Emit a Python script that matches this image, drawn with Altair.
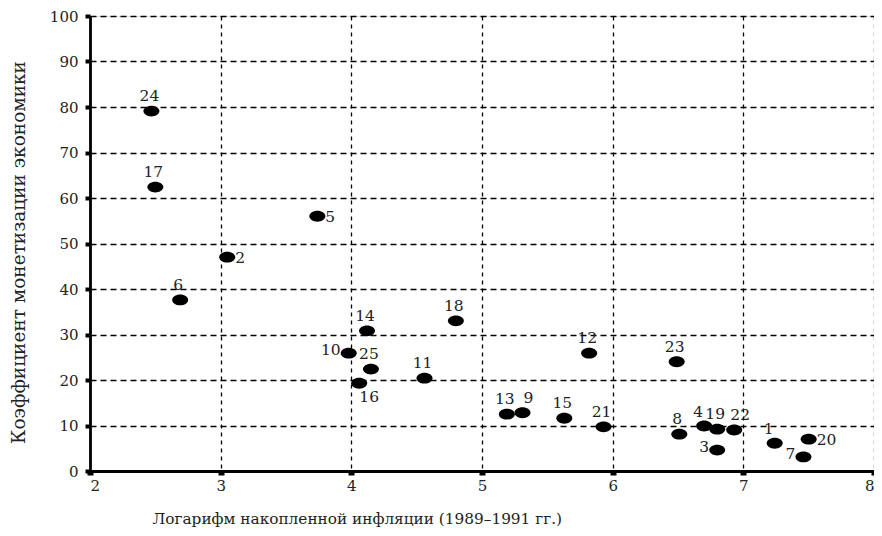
import altair as alt
import pandas as pd

ids = [str(i) for i in range(1, 26)]
x_vals = [7.24, 3.05, 6.80, 6.70, 3.74, 2.69, 7.46, 6.51, 5.31, 3.98,
          4.56, 5.82, 5.19, 4.12, 5.63, 4.06, 2.50, 4.80, 6.80, 7.50,
          5.93, 6.93, 6.49, 2.47, 4.15]
y_vals = [6.1, 47.0, 4.6, 9.9, 56.0, 37.6, 3.1, 8.1, 12.8, 25.9,
          20.4, 25.9, 12.5, 30.8, 11.6, 19.3, 62.4, 33.0, 9.2, 7.0,
          9.7, 9.0, 24.0, 79.1, 22.4]
label_side = ["above-left", "right", "left", "above-left", "right", "above", "left", "above", "above-right", "left",
              "above", "above", "above", "above", "above", "below-right", "above", "above", "above", "right",
              "above", "above-right", "above", "above", "above"]
x_ticks = [2, 3, 4, 5, 6, 7, 8]
y_ticks = [0, 10, 20, 30, 40, 50, 60, 70, 80, 90, 100]

x_title = "Логарифм накопленной инфляции (1989–1991 гг.)"
y_title = "Коэффициент монетизации экономики"

df = pd.DataFrame({"id": ids, "x": x_vals, "y": y_vals, "side": label_side})

FONT = "DejaVu Serif"
W, H = 784, 455

xs = alt.Scale(domain=[2, 8], nice=False, zero=False)
ys = alt.Scale(domain=[0, 100], nice=False)

x_enc = alt.X("x:Q", scale=xs, axis=alt.Axis(
    values=x_ticks, format="d", title=x_title, grid=True, gridDash=[4, 4], gridColor="black",
    gridWidth=1.3, gridOpacity=1, domainColor="black", domainWidth=2.8,
    tickColor="black", tickSize=4, tickWidth=6, labelPadding=3,
    labelFont=FONT, labelFontSize=15, labelColor="#222",
    titleFont=FONT, titleFontSize=15.3, titleFontWeight="normal", titleColor="#222",
    titleAnchor="start", titleAlign="left", titleX=62, titleY=47, titleBaseline="middle"))
y_enc = alt.Y("y:Q", scale=ys, axis=alt.Axis(
    values=y_ticks, format="d", title=y_title, grid=True, gridDash=[6, 4], gridColor="black",
    gridWidth=1.3, gridOpacity=1, domainColor="black", domainWidth=2.8,
    tickColor="black", tickSize=5, tickWidth=4, labelPadding=7,
    labelFont=FONT, labelFontSize=15, labelColor="#222",
    titleFont=FONT, titleFontSize=18.5, titleFontWeight="normal", titleColor="#222",
    titleX=-72, titleY=236, titleBaseline="middle", titleAlign="center"))

ellipse = "M-1,0A1,0.68,0,1,1,1,0A1,0.68,0,1,1,-1,0Z"

base = alt.Chart(df)
points = base.mark_point(shape=ellipse, filled=True, color="black", opacity=1, size=256).encode(
    x=x_enc, y=y_enc)

placements = {
    "above": dict(dx=-2, dy=-15, align="center"),
    "above-left": dict(dx=-6, dy=-14, align="center"),
    "above-right": dict(dx=6, dy=-15, align="center"),
    "right": dict(dx=8, dy=1, align="left"),
    "left": dict(dx=-8, dy=-3, align="right"),
    "below-right": dict(dx=10, dy=14, align="center"),
}

layers = [points]
for side, p in placements.items():
    layers.append(
        base.transform_filter(alt.datum.side == side).mark_text(
            font=FONT, fontSize=15.5, color="#222", baseline="middle", **p
        ).encode(x=alt.X("x:Q", scale=xs), y=alt.Y("y:Q", scale=ys), text="id:N")
    )

chart = alt.layer(*layers).properties(
    width=W, height=H,
    autosize=alt.AutoSizeParams(type="none"),
    padding={"left": 82, "top": 8, "right": 0, "bottom": 57},
).configure_view(stroke="black", strokeWidth=1.8).configure(background="white")

chart.save("out.html", embed_options={"renderer": "svg", "actions": False})
